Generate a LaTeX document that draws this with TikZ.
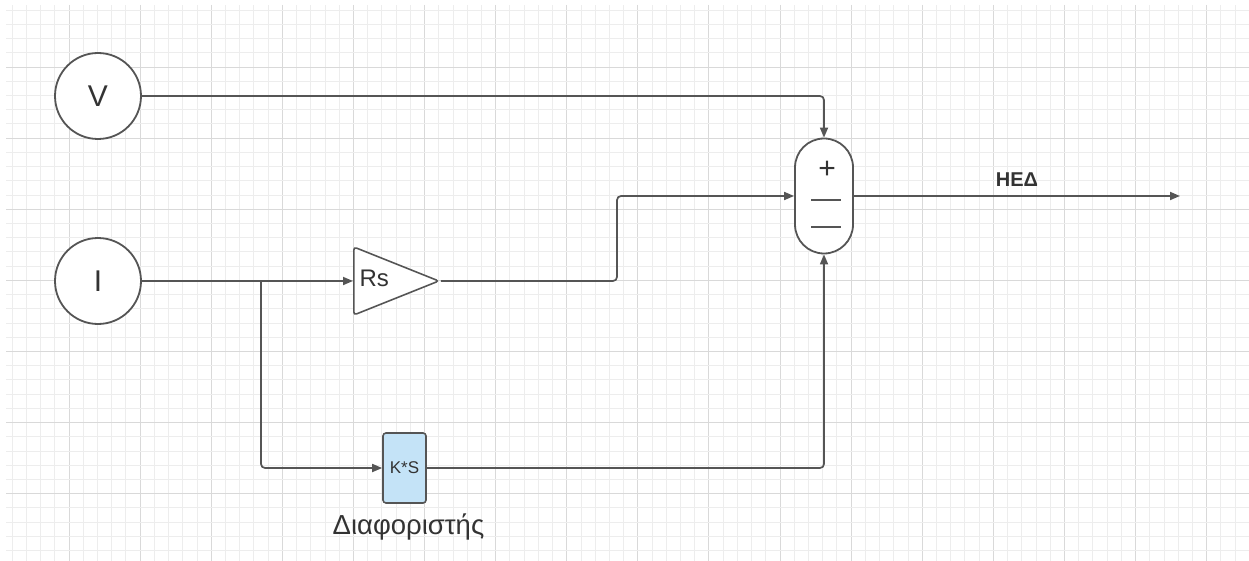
\documentclass[tikz,border=0pt]{standalone}
\usepackage{fontspec}
\setmainfont{Liberation Sans}
\usepackage{xcolor}
\usepackage{tikz}
\usetikzlibrary{shapes.geometric, arrows.meta, positioning, calc}
\definecolor{linegray}{HTML}{555555}
\definecolor{txtgray}{HTML}{333333}
\definecolor{boxblue}{HTML}{C4E3F7}
\tikzset{
    minorgrid/.style={draw=black!7, line width=0.8pt},
    majorgrid/.style={draw=black!15, line width=0.8pt},
    source/.style={circle, draw=linegray, line width=1.8pt, fill=white, minimum size=86pt, inner sep=0pt, text=txtgray, font=\fontsize{30}{32}\selectfont},
    gainblock/.style={isosceles triangle, isosceles triangle stretches, shape border rotate=0, draw=linegray, line width=1.6pt, fill=white, rounded corners=3pt, minimum width=68pt, minimum height=85pt, inner sep=0pt},
    sumblock/.style={rectangle, draw=linegray, line width=1.8pt, fill=white, rounded corners=29pt, minimum width=58pt, minimum height=115pt},
    diffblock/.style={rectangle, draw=linegray, line width=1.6pt, fill=boxblue, rounded corners=3pt, minimum width=43pt, minimum height=70pt, text=txtgray, font=\fontsize{17}{19}\selectfont},
    conn/.style={draw=linegray, line width=1.7pt, rounded corners=4pt, -{Triangle[length=10pt, width=8pt]}},
    caption/.style={text=txtgray, font=\fontsize{27.5}{30}\selectfont}
}

\begin{document}
\begin{tikzpicture}[x=1pt, y=-1pt, node distance=6pt]
    \useasboundingbox (0,0) rectangle (1249,561);
    % background grid
    \foreach \i in {0,...,86} {
        \pgfmathsetmacro{\gx}{12.1+14.22*\i}
        \pgfmathtruncatemacro{\gm}{mod(\i,5)}
        \ifnum\gm=4 \path[majorgrid] (\gx,5) -- (\gx,561);
        \else \path[minorgrid] (\gx,5) -- (\gx,561); \fi
    }
    \foreach \j in {0,...,38} {
        \pgfmathsetmacro{\gy}{10.1+14.22*\j}
        \pgfmathtruncatemacro{\gm}{mod(\j,5)}
        \ifnum\gm=4 \path[majorgrid] (6,\gy) -- (1249,\gy);
        \else \path[minorgrid] (6,\gy) -- (1249,\gy); \fi
    }

    % blocks
    \node (V) [source] at (98,96) {V};
    \node (I) [source] at (98,281) {I};
    \node (Rs) [gainblock, anchor=west, label={[anchor=west, xshift=3pt, yshift=3pt, text=txtgray, font=\fontsize{24}{26}\selectfont]west:Rs}] at (353,281) {};
    \node (sum) [sumblock] at (824,196) {};
    \node (KS) [diffblock] at (404.5,468) {K*S};
    \node (KSlabel) [caption, below=of KS, xshift=4pt] {Διαφοριστής};

    % signs of the summer
    \node (plus) [text=txtgray, font=\fontsize{30}{32}\selectfont] at (827,170) {+};
    \draw[linegray, line width=2.2pt] ($(sum.center)+(-13,4)$) -- ++(30,0);
    \draw[linegray, line width=2.2pt] ($(sum.center)+(-13,31)$) -- ++(30,0);

    \coordinate (branch) at (261,281);
    \coordinate (jog) at (617,240);
    \coordinate (out) at (1180,196);

    % connections
    \draw [conn] (V.east) -| (sum.north);
    \draw [conn] (I.east) -- (Rs.west);
    \draw [conn] (branch) |- (KS.west);
    \draw [conn] (Rs.east) -| (jog) |- (sum.west);
    \draw [conn] (KS.east) -| (sum.south);
    \draw [conn] (sum.east) -- node[above=5pt, text=txtgray, font=\bfseries\fontsize{20}{22}\selectfont, pos=0.5] {ΗΕΔ} (out);
\end{tikzpicture}
\end{document}
